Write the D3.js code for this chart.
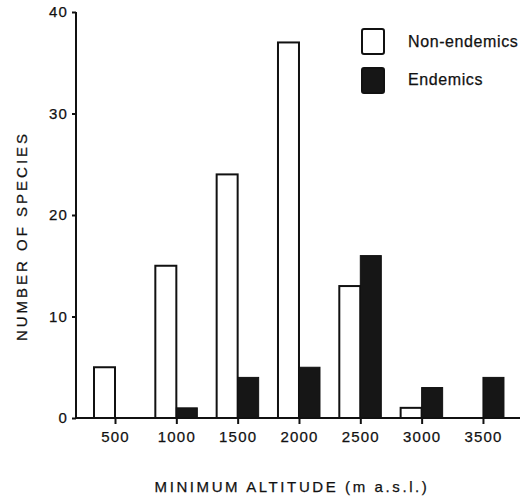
<!DOCTYPE html>
<html>
<head>
<meta charset="utf-8">
<script src="https://cdn.jsdelivr.net/npm/d3@7"></script>
<style>
  body { margin: 0; background: #fff; }
  text { font-family: "Liberation Sans", Arial, sans-serif; fill: #111; stroke: #111; stroke-width: 0.25px; }
</style>
</head>
<body>
<svg id="chart"></svg>
<script>
const altitudes = [500, 1000, 1500, 2000, 2500, 3000, 3500];
const nonEndemics = [5, 15, 24, 37, 13, 1, 0];
const endemics = [0, 1, 4, 5, 16, 3, 4];
const yTicks = [0, 10, 20, 30, 40];

const w = 529;
const h = 498;
const barW = 21;

const svg = d3.select("#chart").attr("width", w).attr("height", h);

const xScale = d3.scaleLinear().domain([182, 3802]).range([76, 520]);
const yScale = d3.scaleLinear().domain([0, 40]).range([418, 12]);

// bars (non-endemics left of tick, endemics right of tick)
svg.selectAll(".non")
  .data(altitudes)
  .enter()
  .filter((d, i) => nonEndemics[i] > 0)
  .append("rect")
  .attr("class", "non")
  .attr("x", (d) => xScale(d) - barW)
  .attr("y", (d) => yScale(nonEndemics[altitudes.indexOf(d)]))
  .attr("width", barW)
  .attr("height", (d) => yScale(0) - yScale(nonEndemics[altitudes.indexOf(d)]))
  .style("fill", "#fff")
  .style("stroke", "#111")
  .style("stroke-width", 2);

svg.selectAll(".end")
  .data(altitudes)
  .enter()
  .filter((d, i) => endemics[i] > 0)
  .append("rect")
  .attr("class", "end")
  .attr("x", (d) => xScale(d))
  .attr("y", (d) => yScale(endemics[altitudes.indexOf(d)]))
  .attr("width", barW)
  .attr("height", (d) => yScale(0) - yScale(endemics[altitudes.indexOf(d)]))
  .style("fill", "#161616")
  .style("stroke", "#111")
  .style("stroke-width", 1);

// axes
const xAxis = d3.axisBottom(xScale).tickValues(altitudes).tickSize(6).tickPadding(7).tickFormat(d3.format("d"));
const gx = svg.append("g")
  .attr("transform", "translate(0," + yScale(0) + ")")
  .call(xAxis);

const yAxis = d3.axisLeft(yScale).tickValues(yTicks).tickSize(4).tickPadding(4);
const gy = svg.append("g")
  .attr("transform", "translate(" + xScale.range()[0] + ",0)")
  .call(yAxis);

[gx, gy].forEach((g) => {
  g.select(".domain").style("stroke", "#111").style("stroke-width", 2);
  g.selectAll(".tick line").style("stroke", "#111").style("stroke-width", 2);
  g.selectAll(".tick text")
    .style("font-family", "'Liberation Sans', Arial, sans-serif")
    .style("font-size", "15px")
    .style("letter-spacing", "1.2px")
    .style("fill", "#111");
});
gy.select(".domain").attr("d", "M0," + yScale(0) + "V" + yScale(40));
gx.select(".domain").attr("d", "M" + xScale.range()[0] + ",0H" + xScale.range()[1]);

// axis titles
svg.append("text")
  .attr("transform", "translate(23,236) rotate(-90)")
  .attr("text-anchor", "middle")
  .attr("dominant-baseline", "middle")
  .style("font-size", "15px")
  .style("letter-spacing", "3px")
  .text("NUMBER OF SPECIES");

svg.append("text")
  .attr("x", 292)
  .attr("y", 492)
  .attr("text-anchor", "middle")
  .style("font-size", "15px")
  .style("letter-spacing", "2.6px")
  .text("MINIMUM ALTITUDE (m a.s.l.)");

// legend
const legend = svg.append("g").attr("id", "legend");
const items = [
  { label: "Non-endemics", fill: "#fff" },
  { label: "Endemics", fill: "#161616" },
];
items.forEach((it, i) => {
  legend.append("rect")
    .attr("x", 362)
    .attr("y", 29 + i * 39)
    .attr("width", 22)
    .attr("height", 25)
    .attr("rx", 2)
    .style("fill", it.fill)
    .style("stroke", "#111")
    .style("stroke-width", 2);
  legend.append("text")
    .attr("x", 408)
    .attr("y", 43 + i * 38)
    .attr("dominant-baseline", "middle")
    .style("font-size", "16px")
    .style("letter-spacing", "0.6px")
    .text(it.label);
});
</script>
</body>
</html>
